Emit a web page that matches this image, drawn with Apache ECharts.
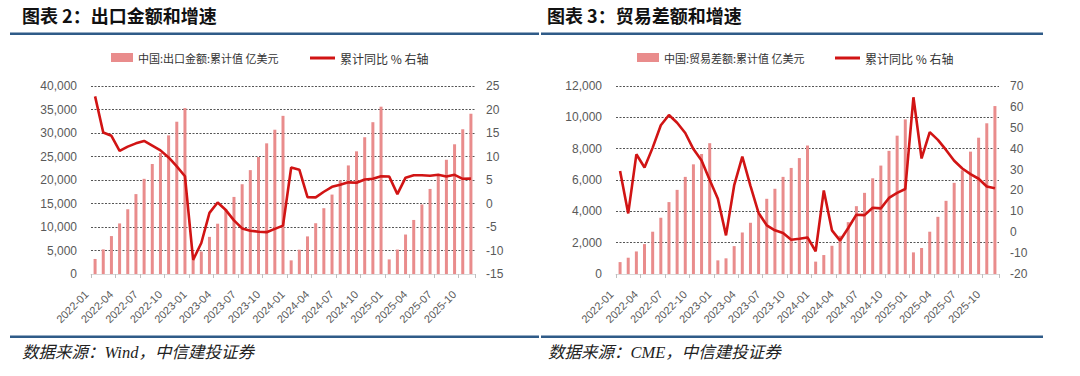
<!DOCTYPE html>
<html>
<head>
<meta charset="utf-8">
<script src="https://cdn.jsdelivr.net/npm/echarts@6/dist/echarts.min.js"></script>
<style>
html,body{margin:0;padding:0;background:#fff;}
#c{width:1080px;height:376px;}
</style>
</head>
<body>
<div id="c"></div>
<script>
// ---- data ----
const categories = [
  '2022-01','2022-02','2022-03','2022-04','2022-05','2022-06','2022-07','2022-08','2022-09','2022-10','2022-11','2022-12',
  '2023-01','2023-02','2023-03','2023-04','2023-05','2023-06','2023-07','2023-08','2023-09','2023-10','2023-11','2023-12',
  '2024-01','2024-02','2024-03','2024-04','2024-05','2024-06','2024-07','2024-08','2024-09','2024-10','2024-11','2024-12',
  '2025-01','2025-02','2025-03','2025-04','2025-05','2025-06','2025-07','2025-08','2025-09','2025-10','2025-11'
];
// 中国:出口金额:累计值 (亿美元)
const exportValue = [
  3200, 5240, 8070, 10760, 13800, 17000, 20250, 23400, 25750, 29500, 32400, 35300,
  3000, 4800, 7900, 10700, 13800, 16400, 19100, 22100, 24900, 27800, 30700, 33650,
  2900, 5170, 8000, 10800, 14000, 16900, 19900, 23100, 26100, 29100, 32300, 35600,
  3100, 5200, 8400, 11500, 14800, 18100, 21000, 24300, 27600, 30800, 34100
];
// 出口 累计同比 %
const exportYoY = [
  22.8, 15.1, 14.4, 11.2, 12.1, 12.8, 13.3, 12.3, 11.3, 9.8, 7.9, 5.8,
  -12.0, -8.4, -2.0, 0.2, -1.4, -3.6, -5.3, -5.8, -6.0, -6.1, -5.4, -4.7,
  7.65, 7.2, 1.35, 1.3, 2.5, 3.55, 4.0, 4.5, 4.4, 5.1, 5.25, 5.8,
  5.75, 2.0, 5.5, 6.0, 6.0, 5.9, 6.1, 5.75, 6.1, 5.25, 5.3
];
// 中国:贸易差额:累计值 (亿美元)
const tradeBalance = [
  760, 1040, 1440, 1910, 2700, 3590, 4590, 5370, 6200, 7000, 7660, 8350,
  870, 1000, 1780, 2650, 3270, 3850, 4800, 5440, 6200, 6770, 7400, 8200,
  790, 1210, 1800, 2440, 3310, 4330, 5180, 6110, 6920, 7860, 8830, 9870,
  1380, 1660, 2700, 3650, 4670, 5820, 6620, 7810, 8700, 9620, 10720
];
// 贸易差额 累计同比 %
const tradeYoY = [
  29.3, 9.0, 37.3, 31.0, 40.5, 51.2, 56.1, 52.4, 47.5, 39.8, 34.3, 25.0,
  16.0, -1.5, 22.4, 36.2, 22.2, 9.2, 3.3, 0.9, -0.4, -3.6, -3.1, -2.5,
  -9.1, 20.0, 0.9, -4.0, 2.0, 8.4, 8.2, 11.7, 11.4, 16.4, 18.8, 20.7,
  64.6, 35.3, 47.9, 44.2, 39.4, 34.2, 30.5, 27.8, 25.6, 21.9, 21.0
];
const titles = ['图表 2：出口金额和增速', '图表 3：贸易差额和增速'];
const sources = ['数据来源：Wind，中信建投证券', '数据来源：CME，中信建投证券'];
const barNames = ['中国:出口金额:累计值 亿美元', '中国:贸易差额:累计值 亿美元'];
const lineName = '累计同比 % 右轴';

// ---- styles ----
const BAR = '#e98c8c';
const LINE = '#d11414';
const BLUE = '#2f5b88';
const AX = '#595959';
const LFONT = 'Liberation Sans, Arial, Noto Sans CJK SC, sans-serif';
const CJK = 'Noto Sans CJK SC, sans-serif';

const chart = echarts.init(document.getElementById('c'), null, {renderer: 'svg'});

function xAxis(gi) {
  return {
    type: 'category', gridIndex: gi, data: categories, boundaryGap: true,
    axisLine: {show: true, lineStyle: {color: '#d9d9d9', width: 1}},
    axisTick: {show: true, interval: 2, length: 4, lineStyle: {color: '#bfbfbf'}},
    axisLabel: {interval: 2, rotate: 45, margin: 10, padding: [0, 12, 0, 0],
      fontSize: 11, color: AX, fontFamily: LFONT},
    splitLine: {show: false}
  };
}
const fmt = v => v.toLocaleString('en-US');
function legend(name, left, bar) {
  return {
    data: [name], left: left, top: 52, padding: 0, icon: 'rect',
    itemWidth: bar ? 22 : 25, itemHeight: bar ? 9 : 3, itemGap: 6,
    textStyle: {fontSize: bar ? 11 : 12, color: '#333', fontFamily: CJK}
  };
}

const option = {
  animation: false,
  backgroundColor: '#fff',
  textStyle: {fontFamily: LFONT},
  grid: [
    {left: 91, top: 86, width: 384, height: 188},
    {left: 616, top: 86, width: 383, height: 188}
  ],
  xAxis: [xAxis(0), xAxis(1)],
  yAxis: [
    {type: 'value', gridIndex: 0, position: 'left', min: 0, max: 40000, interval: 5000,
      axisLine: {show: false}, axisTick: {show: false},
      axisLabel: {formatter: fmt, fontSize: 12, color: AX, margin: 14, fontFamily: LFONT},
      splitLine: {show: true, showMinLine: false, lineStyle: {type: [2, 1.5], color: '#555', width: 1}}},
    {type: 'value', gridIndex: 0, position: 'right', min: -15, max: 25, interval: 5,
      axisLine: {show: false}, axisTick: {show: false},
      axisLabel: {fontSize: 12, color: AX, margin: 11, fontFamily: LFONT},
      splitLine: {show: false}},
    {type: 'value', gridIndex: 1, position: 'left', min: 0, max: 12000, interval: 2000,
      axisLine: {show: false}, axisTick: {show: false},
      axisLabel: {formatter: fmt, fontSize: 12, color: AX, margin: 14, fontFamily: LFONT},
      splitLine: {show: true, showMinLine: false, lineStyle: {type: [2, 1.5], color: '#555', width: 1}}},
    {type: 'value', gridIndex: 1, position: 'right', min: -20, max: 70, interval: 10,
      axisLine: {show: false}, axisTick: {show: false},
      axisLabel: {fontSize: 12, color: AX, margin: 11, fontFamily: LFONT},
      splitLine: {show: false}}
  ],
  legend: [
    legend(barNames[0], 111, true),
    legend(lineName, 310, false),
    legend(barNames[1], 637, true),
    legend(lineName, 835, false)
  ],
  series: [
    {name: barNames[0], type: 'bar', xAxisIndex: 0, yAxisIndex: 0, data: exportValue,
      barWidth: 3, color: BAR, itemStyle: {color: BAR}, z: 2},
    {name: lineName, type: 'line', xAxisIndex: 0, yAxisIndex: 1, data: exportYoY,
      showSymbol: false, symbol: 'none', color: LINE, lineStyle: {color: LINE, width: 2.6}, z: 3},
    {name: barNames[1], type: 'bar', xAxisIndex: 1, yAxisIndex: 2, data: tradeBalance,
      barWidth: 3, color: BAR, itemStyle: {color: BAR}, z: 2},
    {name: lineName, type: 'line', xAxisIndex: 1, yAxisIndex: 3, data: tradeYoY,
      showSymbol: false, symbol: 'none', color: LINE, lineStyle: {color: LINE, width: 2.6}, z: 3}
  ],
  graphic: [
    {type: 'text', left: 22, top: 6, style: {text: titles[0], fontSize: 18, fontWeight: 'bold', fontFamily: CJK, fill: '#111'}},
    {type: 'text', left: 547, top: 6, style: {text: titles[1], fontSize: 18, fontWeight: 'bold', fontFamily: CJK, fill: '#111'}},
    {type: 'rect', shape: {x: 10, y: 32.5, width: 529, height: 2.5}, style: {fill: BLUE}},
    {type: 'rect', shape: {x: 541, y: 32.5, width: 502, height: 2.5}, style: {fill: BLUE}},
    {type: 'rect', shape: {x: 10, y: 335.5, width: 529, height: 2.5}, style: {fill: BLUE}},
    {type: 'rect', shape: {x: 541, y: 335.5, width: 502, height: 2.5}, style: {fill: BLUE}},
    {type: 'text', left: 22, top: 344, style: {text: sources[0], fontSize: 16.5, fontStyle: 'italic',
      fontFamily: 'Liberation Serif, Noto Sans CJK SC, serif', fill: '#222'}},
    {type: 'text', left: 548, top: 344, style: {text: sources[1], fontSize: 16.5, fontStyle: 'italic',
      fontFamily: 'Liberation Serif, Noto Sans CJK SC, serif', fill: '#222'}}
  ]
};
chart.setOption(option);
</script>
</body>
</html>
